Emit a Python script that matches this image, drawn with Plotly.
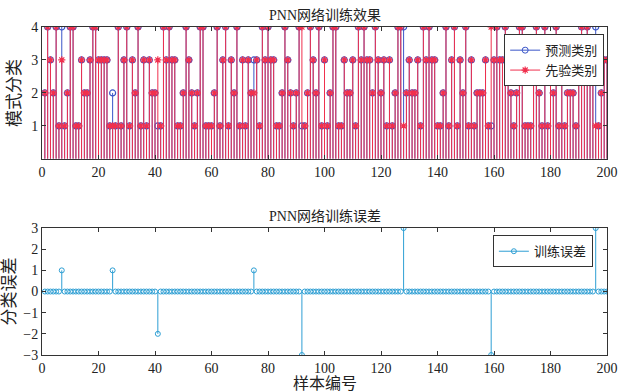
import plotly.graph_objects as go

samples = list(range(1, 201))

actual_class = [
    2, 4, 3, 2, 4, 1, 3, 1, 2, 4, 4, 1, 1, 3, 2, 2, 3, 4, 4, 3,
    3, 3, 3, 1, 1, 1, 4, 1, 3, 4, 1, 3, 2, 4, 1, 3, 1, 3, 2, 2,
    3, 1, 4, 3, 4, 3, 3, 1, 1, 2, 4, 3, 2, 1, 2, 4, 4, 1, 1, 1,
    2, 4, 1, 3, 4, 1, 3, 2, 4, 1, 3, 1, 3, 2, 2, 3, 1, 4, 3, 4,
    3, 3, 1, 1, 2, 4, 3, 2, 1, 2, 4, 4, 1, 2, 4, 3, 2, 4, 1, 3,
    1, 2, 4, 4, 1, 1, 3, 2, 2, 3, 1, 4, 3, 4, 3, 3, 2, 4, 3, 2,
    3, 1, 3, 1, 2, 4, 4, 1, 2, 3, 2, 2, 3, 1, 4, 3, 4, 3, 3, 1,
    1, 2, 4, 1, 3, 4, 1, 3, 2, 4, 1, 3, 1, 2, 2, 2, 3, 1, 4, 3,
    4, 3, 3, 4, 3, 2, 1, 2, 4, 4, 1, 1, 1, 3, 4, 2, 1, 4, 1, 3,
    2, 4, 1, 3, 1, 2, 2, 2, 1, 3, 4, 3, 4, 3, 3, 1, 1, 2, 3, 3,
]

predicted_class = [
    2, 4, 3, 2, 4, 1, 4, 1, 2, 4, 4, 1, 1, 3, 2, 2, 3, 4, 4, 3,
    3, 3, 3, 1, 2, 1, 4, 1, 3, 4, 1, 3, 2, 4, 1, 3, 1, 3, 2, 2,
    1, 1, 4, 3, 4, 3, 3, 1, 1, 2, 4, 3, 2, 1, 2, 4, 4, 1, 1, 1,
    2, 4, 1, 3, 4, 1, 3, 2, 4, 1, 3, 1, 3, 2, 3, 3, 1, 4, 3, 4,
    3, 3, 1, 1, 2, 4, 3, 2, 1, 2, 4, 1, 1, 2, 4, 3, 2, 4, 1, 3,
    1, 2, 4, 4, 1, 1, 3, 2, 2, 3, 1, 4, 3, 4, 3, 3, 2, 4, 3, 2,
    3, 1, 3, 1, 2, 4, 4, 4, 2, 3, 2, 2, 3, 1, 4, 3, 4, 3, 3, 1,
    1, 2, 4, 1, 3, 4, 1, 3, 2, 4, 1, 3, 1, 2, 2, 2, 3, 1, 1, 3,
    4, 3, 3, 4, 3, 2, 1, 2, 4, 4, 1, 1, 1, 3, 4, 2, 1, 4, 1, 3,
    2, 4, 1, 3, 1, 2, 2, 2, 1, 3, 4, 3, 4, 3, 3, 4, 1, 2, 3, 3,
]

train_error = [p - a for p, a in zip(predicted_class, actual_class)]

x_ticks = list(range(0, 201, 20))

BLUE = "#3a55c8"
RED = "#f0304e"
CYAN = "#2e9fd4"
FONT = "Liberation Serif, Noto Sans CJK SC"


def stem_xy(xs, ys):
    sx, sy = [], []
    for x, y in zip(xs, ys):
        sx += [x, x, None]
        sy += [0, y, None]
    return sx, sy


fig = go.Figure()

# top: predicted (blue)
bx, by = stem_xy(samples, predicted_class)
fig.add_trace(go.Scatter(x=bx, y=by, mode="lines", line=dict(color=BLUE, width=1),
                         showlegend=False, hoverinfo="skip", xaxis="x", yaxis="y"))
fig.add_trace(go.Scatter(x=samples, y=predicted_class, mode="markers",
                         marker=dict(symbol="circle-open", size=6, color=BLUE, line=dict(width=1.2)),
                         showlegend=False, xaxis="x", yaxis="y"))
# top: actual (red)
rx, ry = stem_xy(samples, actual_class)
fig.add_trace(go.Scatter(x=rx, y=ry, mode="lines", line=dict(color=RED, width=1),
                         showlegend=False, hoverinfo="skip", xaxis="x", yaxis="y"))
fig.add_trace(go.Scatter(x=samples, y=actual_class, mode="markers",
                         marker=dict(symbol="asterisk-open", size=6, color=RED, line=dict(width=1.2, color=RED)),
                         showlegend=False, xaxis="x", yaxis="y"))
# legend entries
fig.add_trace(go.Scatter(x=[None], y=[None], mode="lines+markers", name="预测类别",
                         line=dict(color=BLUE, width=1),
                         marker=dict(symbol="circle-open", size=6, color=BLUE),
                         xaxis="x", yaxis="y", legend="legend"))
fig.add_trace(go.Scatter(x=[None], y=[None], mode="lines+markers", name="先验类别",
                         line=dict(color=RED, width=1),
                         marker=dict(symbol="asterisk-open", size=6, color=RED, line=dict(width=1.2, color=RED)),
                         xaxis="x", yaxis="y", legend="legend"))

# bottom: error
ex, ey = stem_xy(samples, train_error)
fig.add_trace(go.Scatter(x=ex, y=ey, mode="lines", line=dict(color=CYAN, width=1),
                         showlegend=False, hoverinfo="skip", xaxis="x2", yaxis="y2"))
fig.add_trace(go.Scatter(x=samples, y=train_error, mode="markers",
                         marker=dict(symbol="circle-open", size=5, color=CYAN, line=dict(width=1)),
                         showlegend=False, xaxis="x2", yaxis="y2"))
fig.add_trace(go.Scatter(x=[None], y=[None], mode="lines+markers", name="训练误差",
                         line=dict(color=CYAN, width=1),
                         marker=dict(symbol="circle-open", size=5, color=CYAN),
                         xaxis="x2", yaxis="y2", legend="legend2"))

axis_common = dict(showgrid=False, zeroline=False, showline=True, linecolor="#333333",
                   linewidth=1, mirror="ticks", ticks="inside", ticklen=4, automargin=False,
                   tickcolor="#333333", tickfont=dict(family=FONT, size=14, color="#222222"))

fig.update_layout(
    width=624, height=392,
    margin=dict(l=42, r=17, t=27, b=37),
    paper_bgcolor="white", plot_bgcolor="white",
    font=dict(family=FONT, color="#222222"),
    xaxis=dict(domain=[0, 1], range=[0, 200], tickvals=x_ticks, anchor="y", **axis_common),
    yaxis=dict(domain=[0.598, 1], range=[0, 4], tickvals=[1, 2, 3, 4], anchor="x",
               title=dict(text="模式分类", font=dict(family=FONT, size=17), standoff=6),
               **axis_common),
    xaxis2=dict(domain=[0, 1], range=[0, 200], tickvals=x_ticks, anchor="y2", **axis_common),
    yaxis2=dict(domain=[0, 0.387], range=[-3, 3], tickvals=[-3, -2, -1, 0, 1, 2, 3], anchor="x2",
                title=dict(text="分类误差", font=dict(family=FONT, size=17), standoff=4),
                **axis_common),
    legend=dict(x=0.995, y=0.978, xanchor="right", yanchor="top", bgcolor="white",
                bordercolor="#333333", borderwidth=1, font=dict(family=FONT, size=13),
                itemwidth=30, tracegroupgap=0),
    legend2=dict(x=0.975, y=0.365, xanchor="right", yanchor="top", bgcolor="white",
                 bordercolor="#333333", borderwidth=1, font=dict(family=FONT, size=13),
                 itemwidth=30),
    annotations=[
        dict(text="PNN网络训练效果", x=0.5, y=1, xref="paper", yref="paper", xanchor="center",
             yanchor="bottom", yshift=2, showarrow=False, font=dict(family=FONT, size=14)),
        dict(text="PNN网络训练误差", x=0.5, y=0.387, xref="paper", yref="paper", xanchor="center",
             yanchor="bottom", yshift=2, showarrow=False, font=dict(family=FONT, size=14)),
        dict(text="样本编号", x=0.5, y=0, xref="paper", yref="paper", xanchor="center",
             yanchor="bottom", yshift=-38, borderpad=0, showarrow=False,
             font=dict(family=FONT, size=16)),
    ],
)

fig.write_html("out.html")
